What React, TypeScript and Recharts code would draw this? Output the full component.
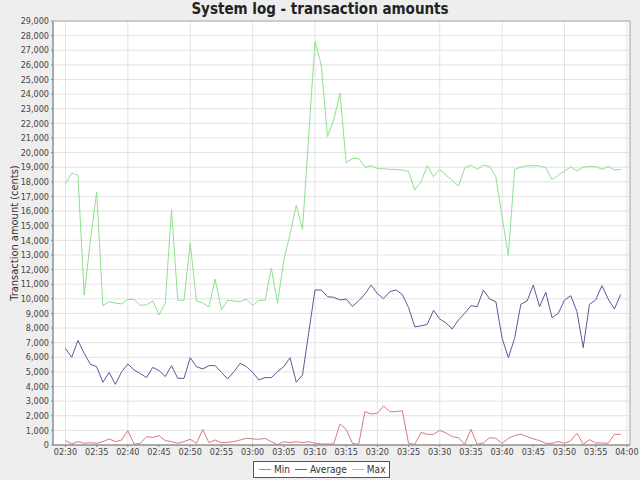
import React from "react";
import { LineChart, Line, XAxis, YAxis, CartesianGrid, ReferenceArea } from "recharts";

// one value per minute, starting 02:30
const minValues = [
  300, 70, 230, 115, 160, 115, 230, 410, 230, 340,
  980, 70, 115, 570, 520, 640, 300, 230, 115, 230,
  390, 115, 1070, 160, 340, 160, 180, 230, 340, 460,
  420, 390, 450, 230, 20, 230, 160, 230, 160, 230,
  115, 70, 70, 70, 1430, 1070, 115, 45, 2280, 2120,
  2170, 2670, 2280, 2280, 2350, 115, 45, 860, 730, 730,
  1000, 830, 570, 500, 40, 1070, 50, 140, 500, 455,
  115, 455, 650, 750, 570, 420, 300, 115, 115, 230,
  115, 300, 800, 50, 365, 140, 140, 115, 730, 730,
];

const averageValues = [
  6600, 6000, 7150, 6270, 5520, 5360, 4290, 4970, 4150, 5010,
  5540, 5130, 4880, 4610, 5310, 5090, 4680, 5430, 4560, 4560,
  5970, 5360, 5200, 5430, 5430, 4970, 4520, 5010, 5590, 5360,
  4970, 4450, 4610, 4610, 5010, 5360, 5970, 4290, 4790, 7700,
  10600, 10600, 10150, 10100, 9920, 9980, 9480, 9860, 10320, 10940,
  10350, 10010, 10490, 10600, 10300, 9400, 8080, 8150, 8250, 9210,
  8620, 8350, 7930, 8550, 9000, 9530, 9460, 10600, 9990, 9800,
  7300, 5970, 7300, 9620, 9850, 10940, 9460, 10450, 8710, 9000,
  9920, 10210, 9120, 6660, 9620, 9920, 10900, 9990, 9300, 10300,
];

const maxValues = [
  17850, 18600, 18450, 10250, 14000, 17300, 9530, 9800, 9700, 9650,
  9950, 9950, 9550, 9600, 9850, 8900, 9700, 16100, 9900, 9900,
  13800, 9850, 9700, 9450, 11350, 9250, 9900, 9850, 9800, 9990,
  9550, 9900, 9900, 12100, 9700, 12650, 14400, 16400, 14750, 21200,
  27600, 26000, 21100, 22200, 24050, 19300, 19600, 19600, 19000, 19100,
  18900, 18900, 18850, 18850, 18800, 18700, 17450, 18000, 19100, 18350,
  18850, 18450, 18100, 17700, 18950, 19150, 18850, 19150, 19050, 18350,
  15600, 12950, 18850, 19000, 19100, 19100, 19100, 18950, 18150, 18450,
  18750, 19000, 18750, 19000, 19050, 19050, 18850, 19050, 18800, 18850,
];

const xTicks = [0, 5, 10, 15, 20, 25, 30, 35, 40, 45, 50, 55, 60, 65, 70, 75, 80, 85, 90];
const xTickLabels = [
  "02:30", "02:35", "02:40", "02:45", "02:50", "02:55", "03:00", "03:05", "03:10", "03:15",
  "03:20", "03:25", "03:30", "03:35", "03:40", "03:45", "03:50", "03:55", "04:00",
];
const yTicks = [
  0, 1000, 2000, 3000, 4000, 5000, 6000, 7000, 8000, 9000,
  10000, 11000, 12000, 13000, 14000, 15000, 16000, 17000, 18000, 19000,
  20000, 21000, 22000, 23000, 24000, 25000, 26000, 27000, 28000, 29000,
];

const FONT = "'DejaVu Sans Condensed', 'DejaVu Sans', sans-serif";
const MIN_COLOR = "#d97a7a";
const AVG_COLOR = "#5a5a9c";
const MAX_COLOR = "#8ee08e";

const data = minValues.map((v, i) => ({
  t: i,
  min: v,
  avg: averageValues[i],
  max: maxValues[i],
}));

const LegendItem = ({ color, label }: { color: string; label: string }) => (
  <span style={{ display: "inline-flex", alignItems: "center", marginLeft: 5 }}>
    <span style={{ display: "inline-block", width: 12, height: 1, background: color, marginRight: 3 }} />
    <span>{label}</span>
  </span>
);

export default function App() {
  return (
    <div
      style={{
        position: "absolute",
        left: 0,
        top: 0,
        width: 640,
        height: 480,
        background: "#eeeeee",
        fontFamily: FONT,
      }}
    >
      {/* title */}
      <div
        style={{
          position: "absolute",
          top: 0,
          left: 0,
          width: 640,
          textAlign: "center",
          fontWeight: "bold",
          fontSize: 15,
          color: "#222",
          lineHeight: "18px",
        }}
      >
        System log - transaction amounts
      </div>

      {/* y axis title */}
      <div
        style={{
          position: "absolute",
          left: 14,
          top: 233,
          transform: "translate(-50%, -50%) rotate(-90deg)",
          whiteSpace: "nowrap",
          fontSize: 11,
          color: "#333",
        }}
      >
        Transaction amount (cents)
      </div>

      <LineChart width={640} height={480} data={data} margin={{ top: 21, right: 10, bottom: 15, left: 0 }}>
        <CartesianGrid stroke="#e2e2e2" fill="#ffffff" />
        <XAxis
          dataKey="t"
          type="number"
          domain={[-2, 90.5]}
          ticks={xTicks}
          tickFormatter={(v: number) => xTickLabels[xTicks.indexOf(v)]}
          height={20}
          tickSize={2}
          tick={{ fontSize: 9, fill: "#444", fontFamily: FONT }}
          stroke="#888"
          allowDataOverflow
        />
        <YAxis
          type="number"
          domain={[0, 29000]}
          ticks={yTicks}
          tickFormatter={(v: number) => v.toLocaleString("en-US")}
          width={53}
          tickSize={2}
          tick={{ fontSize: 9, fill: "#444", fontFamily: FONT }}
          stroke="#888"
          interval={0}
        />
        <ReferenceArea x1={-2} x2={90.5} y1={0} y2={29000} fill="none" stroke="#aaaaaa" />
        <Line type="linear" dataKey="min" stroke={MIN_COLOR} strokeWidth={1} dot={false} isAnimationActive={false} />
        <Line type="linear" dataKey="avg" stroke={AVG_COLOR} strokeWidth={1} dot={false} isAnimationActive={false} />
        <Line type="linear" dataKey="max" stroke={MAX_COLOR} strokeWidth={1} dot={false} isAnimationActive={false} />
      </LineChart>

      {/* legend */}
      <div
        style={{
          position: "absolute",
          left: 253,
          top: 461,
          height: 17,
          paddingRight: 4,
          border: "1px solid #555",
          background: "#ffffff",
          fontSize: 10,
          color: "#333",
          display: "flex",
          alignItems: "center",
          boxSizing: "border-box",
        }}
      >
        <LegendItem color={MIN_COLOR} label="Min" />
        <LegendItem color={AVG_COLOR} label="Average" />
        <LegendItem color={MAX_COLOR} label="Max" />
      </div>
    </div>
  );
}
